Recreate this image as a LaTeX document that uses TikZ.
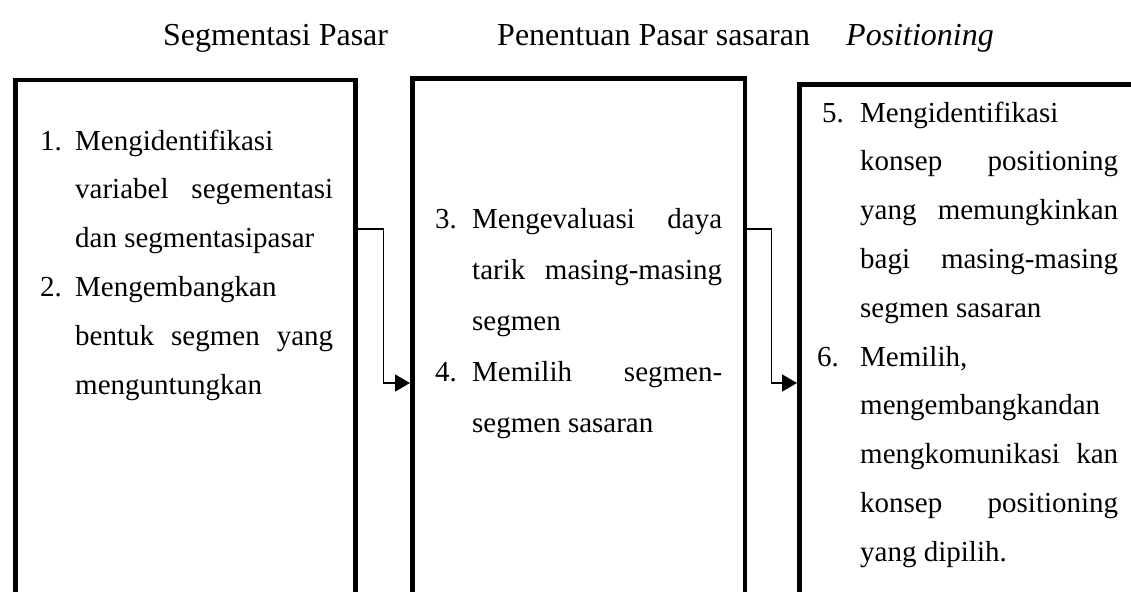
\documentclass[tikz,border=0pt]{standalone}
\usepackage{fontspec}
\setmainfont{Liberation Serif}
\usetikzlibrary{arrows.meta}

% widths of the number column and of the text column of a list
\newlength\numw
\newlength\txtw
\newcommand{\jl}[1]{\makebox[\txtw][s]{#1}}   % justified line
\newcommand{\pl}[1]{\makebox[\txtw][l]{#1}}   % ragged line
\newcommand{\nl}[2]{\hbox{\makebox[\numw][l]{#1}#2}}  % numbered line
\newcommand{\cl}[1]{\hbox{\hskip\numw #1}}           % continued line

\tikzset{
  panel/.style={draw, line width=4.5pt, anchor=north west, inner sep=0pt,
    outer sep=0pt, minimum height=640pt},
  heading/.style={anchor=base west, inner sep=0pt, font=\fontsize{32}{38}\selectfont},
  listtext/.style={anchor=base west, inner sep=0pt, font=\fontsize{29}{48}\selectfont},
  conn/.style={line width=1.6pt, -{Triangle[length=15pt,width=17pt]}},
}

\begin{document}
\begin{tikzpicture}[x=1pt, y=-1pt]
  \useasboundingbox[fill=white] (0,0) rectangle (1131,591);

  % headings
  \node[heading] (h1) at (163,46) {Segmentasi Pasar};
  \node[heading] (h2) at (497,46) {Penentuan Pasar sasaran};
  \node[heading] (h3) at (846,46) {\itshape Positioning};

  % the three panels
  \node[panel, minimum width=340pt] (b1) at (15.5,80) {};
  \node[panel, minimum width=332.5pt] (b2) at (412.5,78.5) {};
  \node[panel, minimum width=400pt] (b3) at (799.5,84.5) {};

  % panel contents
  \node[listtext] (t1) at (40,150) {\setlength\numw{35pt}\setlength\txtw{258pt}%
    \vtop{\baselineskip=48.8pt
      \nl{1.}{\pl{Mengidentifikasi}}
      \cl{\jl{variabel segementasi}}
      \cl{\pl{dan segmentasipasar}}
      \nl{2.}{\pl{Mengembangkan}}
      \cl{\jl{bentuk segmen yang}}
      \cl{\pl{menguntungkan}}}};

  \node[listtext] (t2) at (435,228) {\setlength\numw{37pt}\setlength\txtw{250pt}%
    \vtop{\baselineskip=51pt
      \nl{3.}{\jl{Mengevaluasi daya}}
      \cl{\jl{tarik masing-masing}}
      \cl{\pl{segmen}}
      \nl{4.}{\jl{Memilih segmen-}}
      \cl{\pl{segmen sasaran}}}};

  \node[listtext] (t3) at (822,122) {\setlength\numw{38pt}\setlength\txtw{258pt}%
    \vtop{\baselineskip=48.8pt
      \nl{5.}{\pl{Mengidentifikasi}}
      \cl{\jl{konsep positioning}}
      \cl{\jl{yang memungkinkan}}
      \cl{\jl{bagi masing-masing}}
      \cl{\pl{segmen sasaran}}
      \hbox{\hskip-5pt\makebox[43pt][l]{6.}\pl{Memilih,}}
      \cl{\pl{mengembangkandan}}
      \cl{\jl{mengkomunikasi kan}}
      \cl{\jl{konsep positioning}}
      \cl{\pl{yang dipilih.}}}};

  % connectors between the panels
  \coordinate (hi) at (0,229);
  \coordinate (lo) at (0,383);
  \draw[conn] (b1.east |- hi) -- ++(28,0) |- ([xshift=-2.5pt]b2.west |- lo);
  \draw[conn] (b2.east |- hi) -- ++(26.5,0) |- ([xshift=-2.5pt]b3.west |- lo);
\end{tikzpicture}
\end{document}
